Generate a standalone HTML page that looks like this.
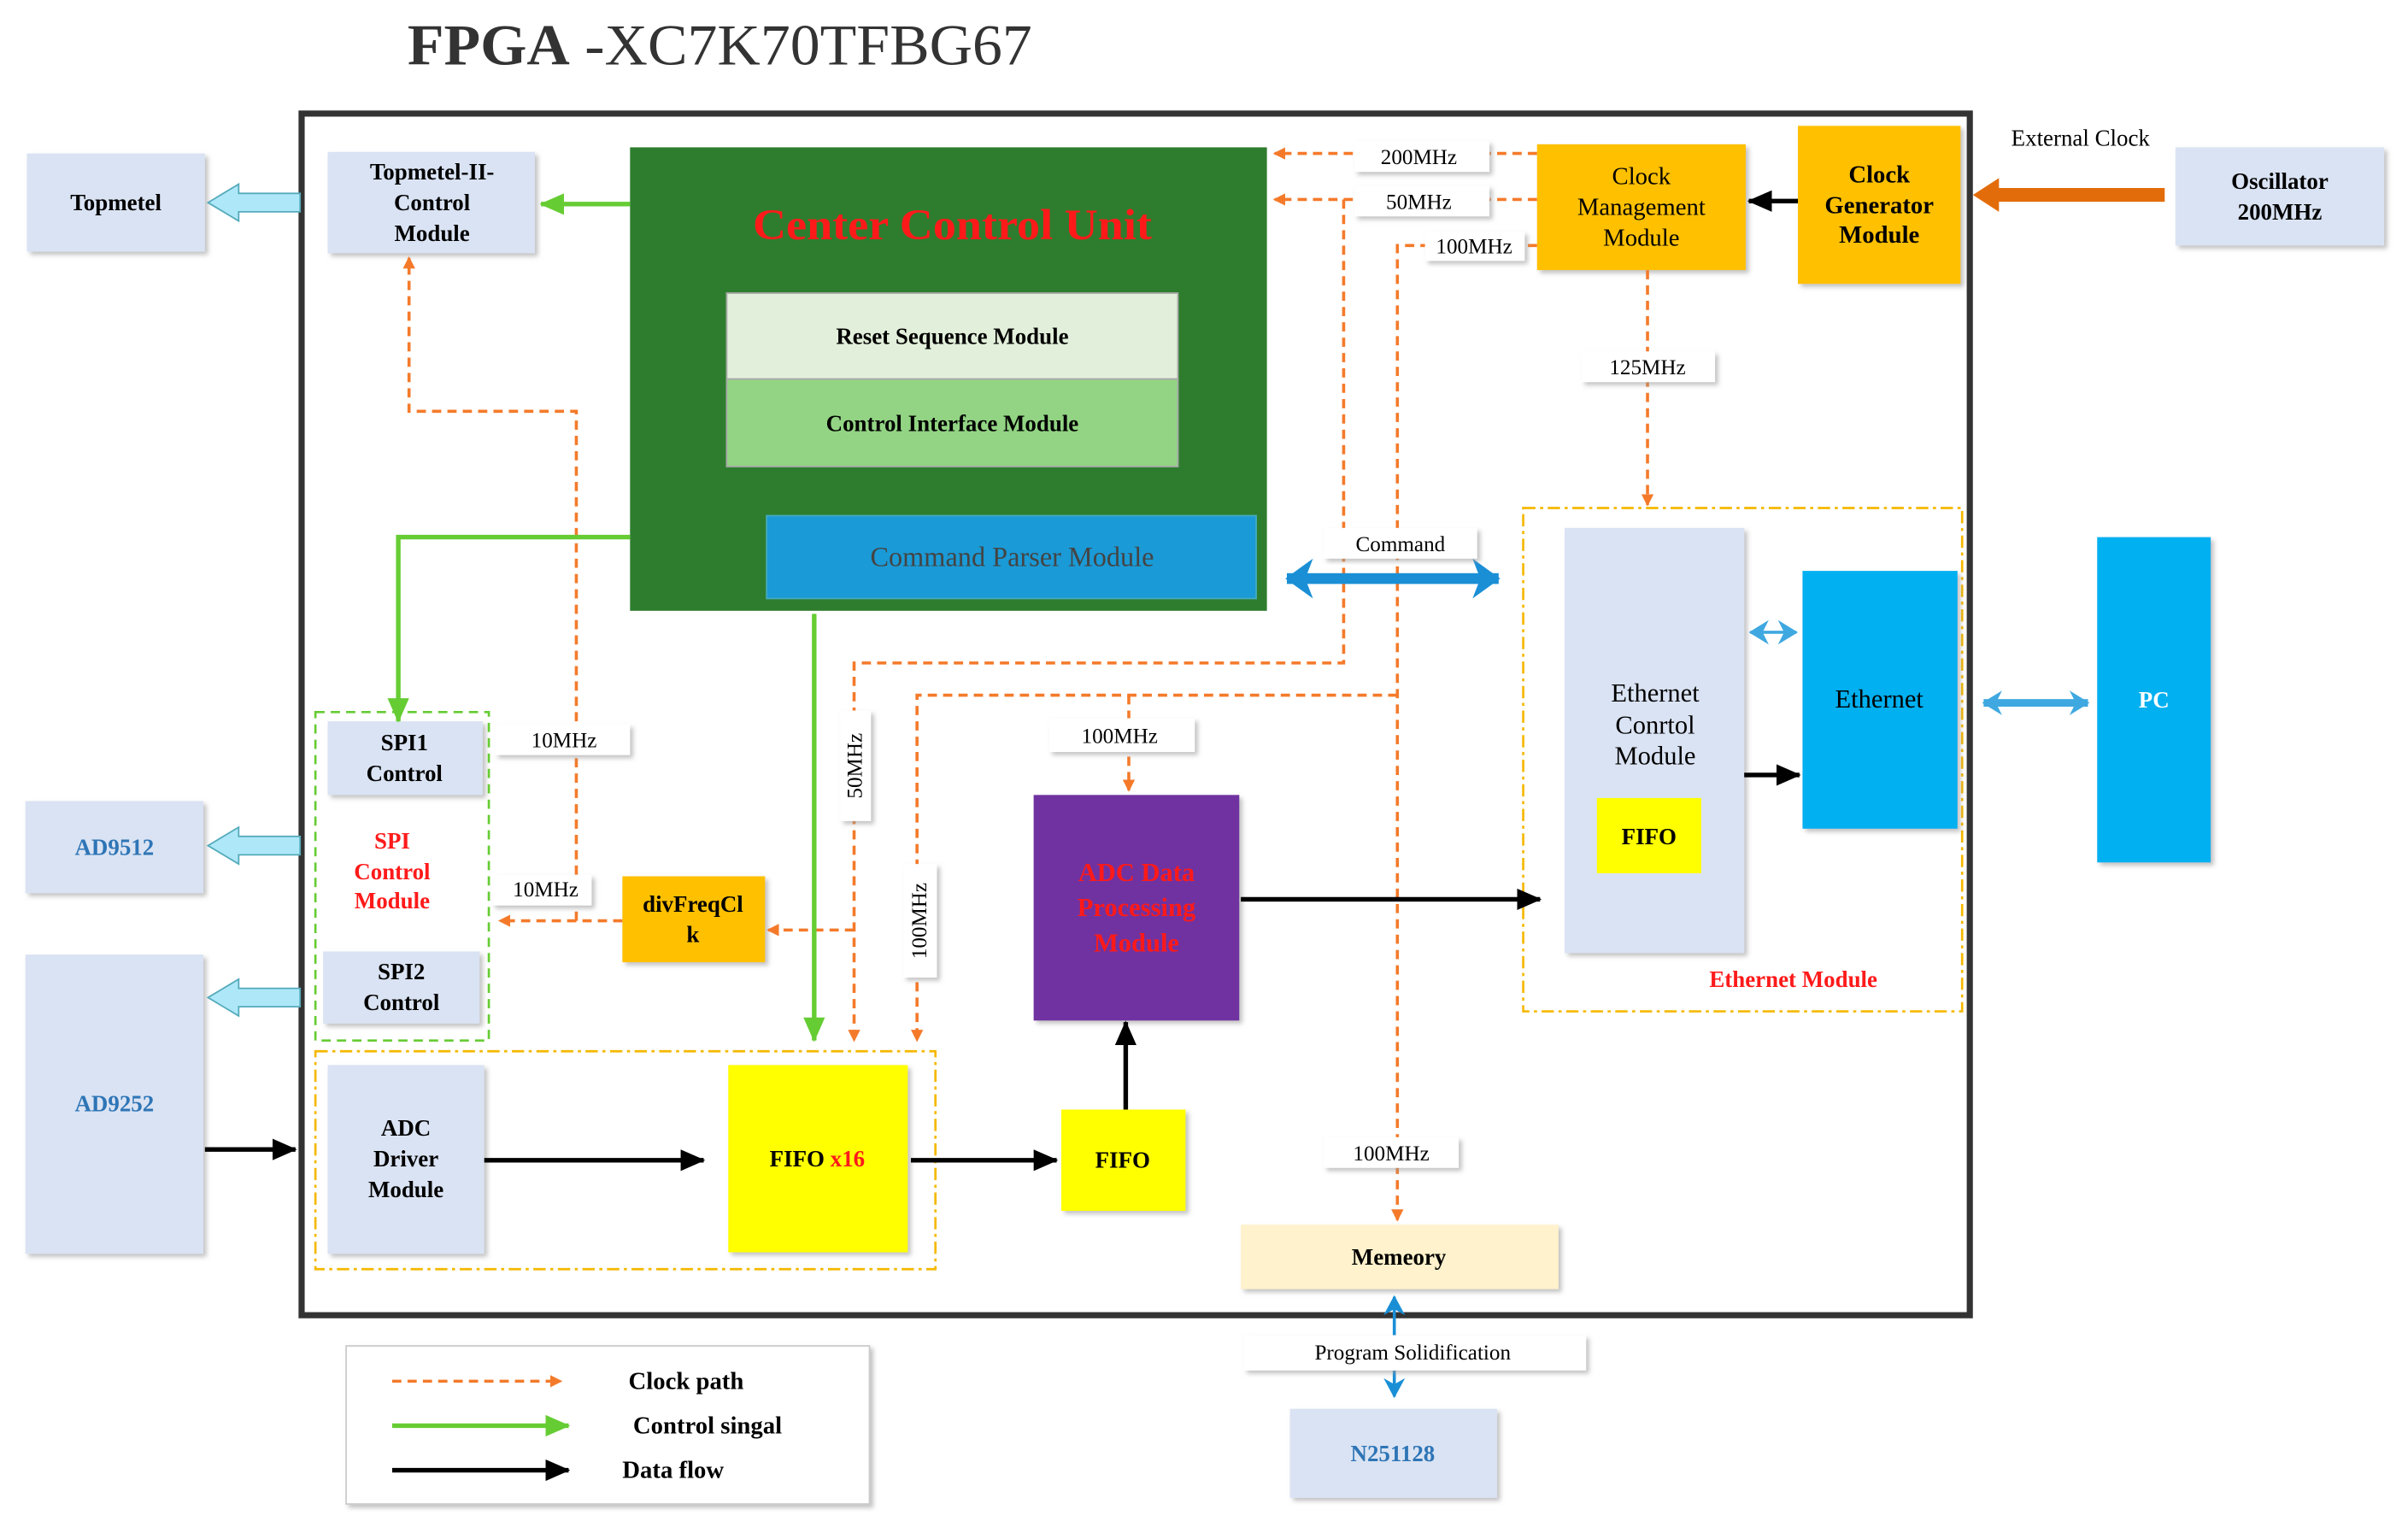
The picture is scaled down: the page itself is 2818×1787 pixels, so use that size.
<!DOCTYPE html>
<html><head><meta charset="utf-8"><style>
html,body{margin:0;padding:0;background:#fff;width:2818px;height:1787px;overflow:hidden}
svg{display:block}
text{font-family:"Liberation Serif",serif}
.b{font-weight:bold}
</style></head><body>
<svg width="2818" height="1787" viewBox="0 0 1568 995" xmlns="http://www.w3.org/2000/svg">
<defs>
<marker id="ao" markerWidth="8" markerHeight="8" refX="7" refY="4" orient="auto" markerUnits="userSpaceOnUse"><path d="M0,0 L8,4 L0,8 Z" fill="#f47a2a"/></marker>
<marker id="ag" markerWidth="16" markerHeight="14" refX="15" refY="7" orient="auto" markerUnits="userSpaceOnUse"><path d="M0,0 L16,7 L0,14 Z" fill="#66cc33"/></marker>
<marker id="ak" markerWidth="16" markerHeight="14" refX="15" refY="7" orient="auto" markerUnits="userSpaceOnUse"><path d="M0,0 L16,7 L0,14 Z" fill="#000"/></marker>
<marker id="ab" markerWidth="14" markerHeight="14" refX="12" refY="7" orient="auto" markerUnits="userSpaceOnUse"><path d="M0,0 L13,7 L0,14 L4,7 Z" fill="#1a8fd6"/></marker>
<marker id="abs" markerWidth="14" markerHeight="14" refX="12" refY="7" orient="auto-start-reverse" markerUnits="userSpaceOnUse"><path d="M0,0 L13,7 L0,14 L4,7 Z" fill="#1a8fd6"/></marker>
<marker id="abb" markerWidth="20" markerHeight="26" refX="17" refY="13" orient="auto-start-reverse" markerUnits="userSpaceOnUse"><path d="M0,0 L18,13 L0,26 L5,13 Z" fill="#1a8fd6"/></marker>
<marker id="alb" markerWidth="14" markerHeight="16" refX="12" refY="8" orient="auto-start-reverse" markerUnits="userSpaceOnUse"><path d="M0,0 L13,8 L0,16 L4,8 Z" fill="#3fa8e0"/></marker>
<filter id="sh" x="-10%" y="-10%" width="130%" height="130%"><feDropShadow dx="2" dy="2" stdDeviation="1.5" flood-color="#999" flood-opacity="0.6"/></filter>
</defs>

<text x="265" y="42" font-size="38" fill="#333" textLength="407" lengthAdjust="spacingAndGlyphs"><tspan class="b">FPGA</tspan> -XC7K70TFBG67</text>

<rect x="196" y="74" width="1087" height="783" fill="none" stroke="#333" stroke-width="4"/>

<g filter="url(#sh)">
<rect x="17" y="100" width="116" height="64" fill="#dae3f3"/>
<rect x="16" y="522" width="116" height="60" fill="#dae3f3"/>
<rect x="16" y="622" width="116" height="195" fill="#dae3f3"/>
<rect x="213" y="99" width="135" height="66" fill="#dae3f3"/>
<rect x="1417" y="96" width="136" height="64" fill="#dae3f3"/>
<rect x="840" y="918" width="135" height="58" fill="#dae3f3"/>
<rect x="808" y="798" width="207" height="42" fill="#fff2cc"/>
<rect x="1001" y="94" width="136" height="82" fill="#ffc000"/>
<rect x="1171" y="82" width="106" height="103" fill="#ffc000"/>
<rect x="405" y="571" width="93" height="56" fill="#ffc000"/>
<rect x="1019" y="344" width="117" height="277" fill="#dae3f3"/>
<rect x="213" y="470" width="101" height="48" fill="#dae3f3"/>
<rect x="210" y="620" width="102" height="47" fill="#dae3f3"/>
<rect x="213" y="694" width="102" height="123" fill="#dae3f3"/>
<rect x="474" y="694" width="117" height="122" fill="#ffff00"/>
<rect x="691" y="723" width="81" height="66" fill="#ffff00"/>
<rect x="225" y="877" width="341" height="103" fill="#fff" stroke="#ccc"/>
</g>
<text x="75" y="137" font-size="15" class="b" text-anchor="middle">Topmetel</text>
<text x="74" y="557" font-size="15" class="b" text-anchor="middle" fill="#2e75b6">AD9512</text>
<text x="74" y="724" font-size="15" class="b" text-anchor="middle" fill="#2e75b6">AD9252</text>
<text text-anchor="middle" font-size="15" class="b"><tspan x="281" y="117">Topmetel-II-</tspan><tspan x="281" y="137">Control</tspan><tspan x="281" y="157">Module</tspan></text>
<text text-anchor="middle" font-size="15" class="b"><tspan x="1485" y="123">Oscillator</tspan><tspan x="1485" y="143">200MHz</tspan></text>
<text x="907" y="952" font-size="15" class="b" text-anchor="middle" fill="#2e75b6">N251128</text>
<text x="911" y="824" font-size="15" class="b" text-anchor="middle">Memeory</text>
<text text-anchor="middle" font-size="16"><tspan x="1069" y="120">Clock</tspan><tspan x="1069" y="140">Management</tspan><tspan x="1069" y="160">Module</tspan></text>
<text text-anchor="middle" font-size="16" class="b"><tspan x="1224" y="119">Clock</tspan><tspan x="1224" y="139">Generator</tspan><tspan x="1224" y="158">Module</tspan></text>
<text text-anchor="middle" font-size="15" class="b"><tspan x="451" y="594">divFreqCl</tspan><tspan x="451" y="614">k</tspan></text>
<text x="1310" y="95" font-size="15">External Clock</text>

<rect x="410" y="96" width="415" height="302" fill="#2e7d2e"/>
<text x="620" y="156" font-size="28" class="b" text-anchor="middle" fill="#ff1a1a" textLength="260" lengthAdjust="spacingAndGlyphs">Center Control  Unit</text>
<rect x="473" y="191" width="294" height="56" fill="#e2efda" stroke="#aaa"/>
<rect x="473" y="247" width="294" height="57" fill="#92d483" stroke="#aaa"/>
<text x="620" y="224" font-size="15" class="b" text-anchor="middle">Reset Sequence Module</text>
<text x="620" y="281" font-size="15" class="b" text-anchor="middle">Control Interface Module</text>
<rect x="499" y="336" width="319" height="54" fill="#1a9ad6" stroke="#4ab"/>
<text x="659" y="369" font-size="18" text-anchor="middle" fill="#444">Command Parser Module</text>

<rect x="992" y="331" width="286" height="328" fill="none" stroke="#f5b800" stroke-width="1.5" stroke-dasharray="8,3,2,3"/>
<text text-anchor="middle" font-size="17"><tspan x="1078" y="457">Ethernet</tspan><tspan x="1078" y="478">Conrtol</tspan><tspan x="1078" y="498">Module</tspan></text>
<rect x="1040" y="520" width="68" height="49" fill="#ffff00"/>
<text x="1074" y="550" font-size="15" class="b" text-anchor="middle">FIFO</text>
<rect x="1174" y="372" width="101" height="168" fill="#00b0f0" filter="url(#sh)"/>
<text x="1224" y="461" font-size="17" text-anchor="middle">Ethernet</text>
<rect x="1366" y="350" width="74" height="212" fill="#00b0f0" filter="url(#sh)"/>
<text x="1403" y="461" font-size="15" class="b" text-anchor="middle" fill="#fff">PC</text>
<text x="1168" y="643" font-size="15" class="b" text-anchor="middle" fill="#ff1a1a">Ethernet Module</text>

<rect x="673" y="518" width="134" height="147" fill="#7030a0" filter="url(#sh)"/>
<text text-anchor="middle" font-size="17" class="b" fill="#ff1a1a"><tspan x="740" y="574">ADC Data</tspan><tspan x="740" y="597">Processing</tspan><tspan x="740" y="620">Module</tspan></text>

<rect x="205" y="464" width="113" height="214" fill="none" stroke="#66cc33" stroke-width="1.5" stroke-dasharray="6,4"/>
<text text-anchor="middle" font-size="15" class="b"><tspan x="263" y="489">SPI1</tspan><tspan x="263" y="509">Control</tspan></text>
<text text-anchor="middle" font-size="15" class="b" fill="#ff1a1a"><tspan x="255" y="553">SPI</tspan><tspan x="255" y="573">Control</tspan><tspan x="255" y="592">Module</tspan></text>
<text text-anchor="middle" font-size="15" class="b"><tspan x="261" y="638">SPI2</tspan><tspan x="261" y="658">Control</tspan></text>

<rect x="205" y="685" width="404" height="142" fill="none" stroke="#f5b800" stroke-width="1.5" stroke-dasharray="8,3,2,3"/>
<text text-anchor="middle" font-size="15" class="b"><tspan x="264" y="740">ADC</tspan><tspan x="264" y="760">Driver</tspan><tspan x="264" y="780">Module</tspan></text>
<text x="532" y="760" font-size="15" class="b" text-anchor="middle">FIFO <tspan fill="#ff1a1a">x16</tspan></text>
<text x="731" y="761" font-size="15" class="b" text-anchor="middle">FIFO</text>

<g fill="none" stroke="#f47a2a" stroke-width="2" stroke-dasharray="6,4" marker-end="url(#ao)">
<path d="M1001,100 H830"/>
<path d="M1001,130 H830"/>
<path d="M1001,160 H910 V795"/>
<path d="M875,130 V432 H556 V678"/>
<path d="M910,453 H597 V678"/>
<path d="M735,453 V515"/>
<path d="M1073,176 V329"/>
<path d="M556,606 H500"/>
<path d="M405,600 H325"/>
<path d="M375,600 V268 H266 V168"/>
</g>
<g font-size="14" text-anchor="middle">
<g filter="url(#sh)" fill="#fff">
<rect x="882" y="92" width="88" height="20"/>
<rect x="882" y="121" width="88" height="20"/>
<rect x="928" y="151" width="65" height="19"/>
<rect x="1030" y="229" width="87" height="20"/>
<rect x="683" y="468" width="95" height="22"/>
<rect x="862" y="741" width="88" height="20"/>
<rect x="322" y="472" width="88" height="20"/>
<rect x="320" y="570" width="65" height="20"/>
<rect x="547" y="463" width="20" height="72"/>
<rect x="588" y="563" width="22" height="74"/>
</g>
<text x="924" y="107">200MHz</text>
<text x="924" y="136">50MHz</text>
<text x="960" y="165">100MHz</text>
<text x="1073" y="244">125MHz</text>
<text x="729" y="484">100MHz</text>
<text x="906" y="756">100MHz</text>
<text x="367" y="487">10MHz</text>
<text x="355" y="584">10MHz</text>
<text transform="translate(561,499) rotate(-90)">50MHz</text>
<text transform="translate(603,600) rotate(-90)">100MHz</text>
</g>

<g fill="none" stroke="#66cc33" stroke-width="3" marker-end="url(#ag)">
<path d="M410,133 H352"/>
<path d="M410,350 H259 V470"/>
<path d="M530,400 V678"/>
</g>

<g fill="none" stroke="#000" stroke-width="3" marker-end="url(#ak)">
<path d="M133,749 H192"/>
<path d="M315,756 H458"/>
<path d="M593,756 H688"/>
<path d="M733,723 V666"/>
<path d="M808,586 H1003"/>
<path d="M1136,505 H1172"/>
<path d="M1171,131 H1139"/>
</g>

<path d="M838,377 H976" stroke="#1a8fd6" stroke-width="7" fill="none" marker-end="url(#abb)" marker-start="url(#abb)"/>
<rect x="862" y="344" width="100" height="20" fill="#fff" filter="url(#sh)"/><text x="912" y="359" font-size="14" text-anchor="middle">Command</text>
<path d="M1140,412 H1170" stroke="#3fa8e0" stroke-width="2" fill="none" marker-end="url(#alb)" marker-start="url(#alb)"/>
<path d="M1292,458 H1360" stroke="#3fa8e0" stroke-width="5" fill="none" marker-end="url(#alb)" marker-start="url(#alb)"/>
<path d="M908,845 V910" stroke="#1a8fd6" stroke-width="2" fill="none" marker-end="url(#ab)" marker-start="url(#abs)"/>
<rect x="810" y="870" width="223" height="23" fill="#fff" filter="url(#sh)"/>
<text x="920" y="886" font-size="14" text-anchor="middle">Program Solidification</text>

<path d="M1410,127 H1300" stroke="#e36c0a" stroke-width="9" fill="none"/>
<path d="M1302,116 L1285,127 L1302,138 Z" fill="#e36c0a"/>

<g fill="#aee8f8" stroke="#5ab" stroke-width="1">
<path d="M195,126 H155 V120 L135,132 L155,144 V138 H195 Z"/>
<path d="M195,545 H155 V539 L135,551 L155,563 V557 H195 Z"/>
<path d="M195,644 H155 V638 L135,650 L155,662 V656 H195 Z"/>
</g>

<path d="M255,900 H365" stroke="#f47a2a" stroke-width="2" stroke-dasharray="6,4" marker-end="url(#ao)"/>
<path d="M255,929 H370" stroke="#66cc33" stroke-width="3" marker-end="url(#ag)"/>
<path d="M255,958 H370" stroke="#000" stroke-width="3" marker-end="url(#ak)"/>
<g font-size="16" class="b"><text x="409" y="905">Clock path</text><text x="412" y="934">Control singal</text><text x="405" y="963">Data flow</text></g>
</svg>
</body></html>
